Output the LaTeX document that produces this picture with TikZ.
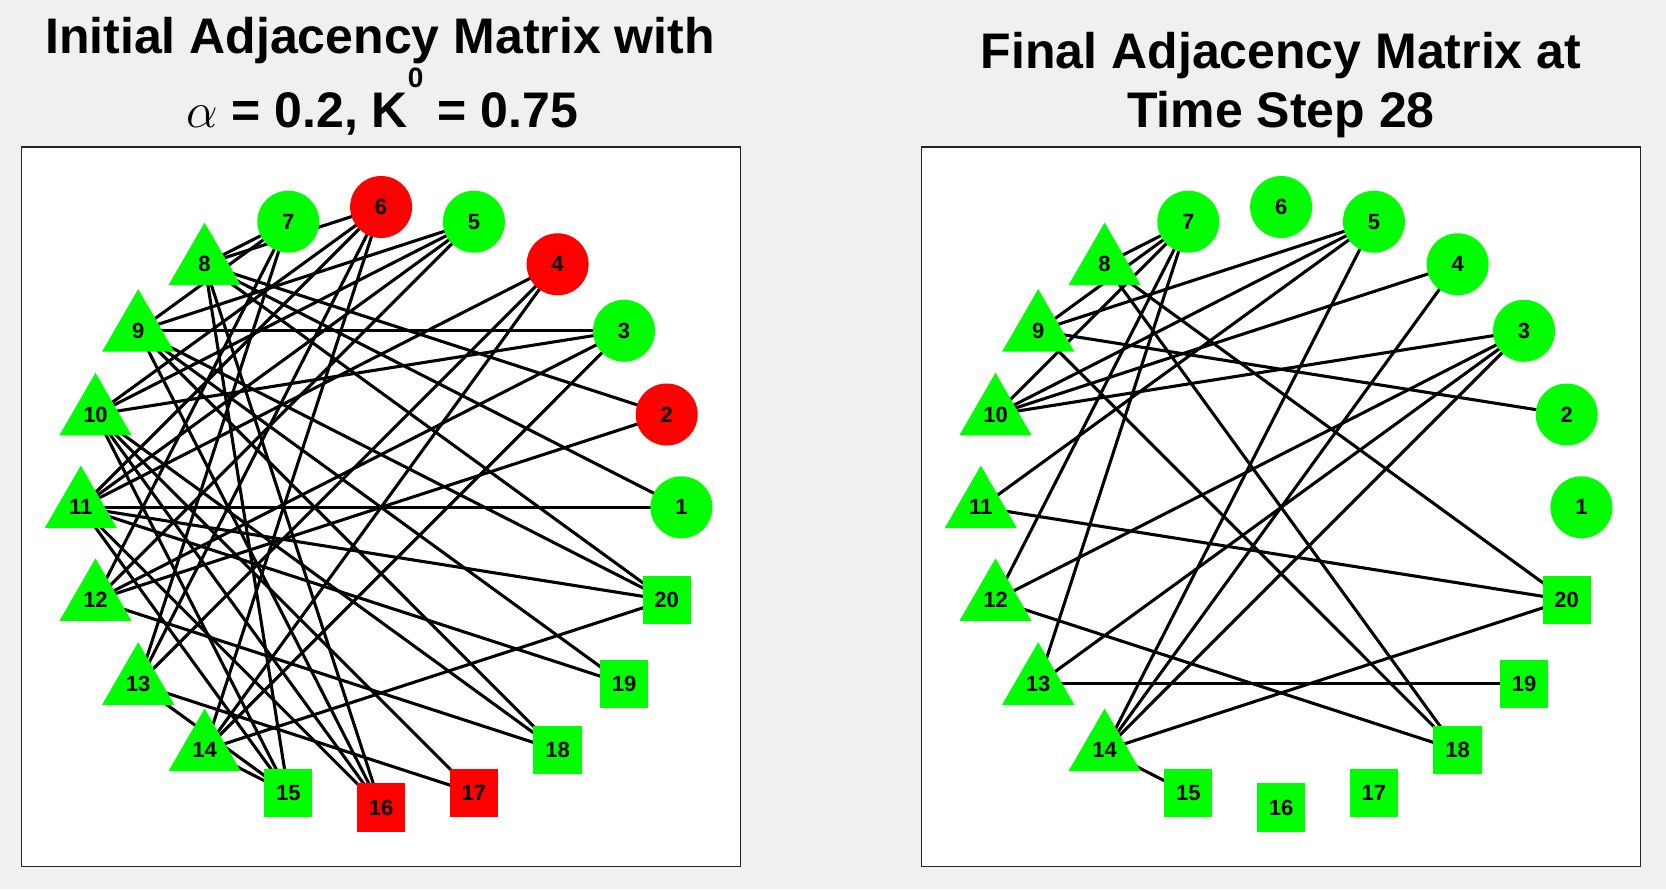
\RequirePackage{fix-cm}
\documentclass[tikz,border=0pt]{standalone}
\usepackage{fontspec}
\setmainfont{Liberation Sans}
\usetikzlibrary{shapes.geometric}
\pgfdeclarelayer{panel}
\pgfdeclarelayer{edges}
\pgfsetlayers{panel,edges,main}
\definecolor{figbg}{RGB}{240,240,240}
\definecolor{ngreen}{RGB}{0,255,0}
\definecolor{nred}{RGB}{255,0,0}
\definecolor{axbox}{RGB}{38,38,38}
\tikzset{
  lbl/.style={font=\bfseries\fontsize{16.5}{16.5}\selectfont, inner sep=0pt, text=black},
  circ/.style={lbl, circle, minimum size=46.5pt},
  sq/.style={lbl, rectangle, minimum size=36.2pt},
  tri/.style={lbl, regular polygon, regular polygon sides=3, minimum size=62.6pt},
  gn/.style={fill=ngreen},
  rd/.style={fill=nred},
  edge/.style={draw=black, line width=2.3pt},
  panelbox/.style={draw=axbox, fill=white, line width=0.8pt},
  ttl/.style={font=\bfseries\fontsize{37.5}{37.5}\selectfont, anchor=base, inner sep=0pt},
}
\begin{document}
\begin{tikzpicture}[x=0.75pt,y=-0.75pt]
\useasboundingbox (0,0) rectangle (1666,889);
\begin{pgfonlayer}{panel}
\fill[figbg] (0,0) rectangle (1666,889);
\draw[panelbox] (21.4,147) rectangle (740.8,866.4);
\draw[panelbox] (921.4,147) rectangle (1640.8,866.4);
\end{pgfonlayer}

% titles
\node[ttl] (tl1) at (380,53) {Initial Adjacency Matrix with};
\node[ttl] (tl2) at (382,127.5) {$\alpha$ = 0.2, K\raisebox{30pt}{\fontsize{21}{21}\selectfont 0} = 0.75};
\node[ttl] (tr1) at (1281,68) {Final Adjacency Matrix at};
\node[ttl] (tr2) at (1281,127.5) {Time Step 28};

% left nodes
\node[circ,gn] (L1) at (681.4,507.3) {1};
\node[circ,rd] (L2) at (666.7,414.5) {2};
\node[circ,gn] (L3) at (624.0,330.8) {3};
\node[circ,rd] (L4) at (557.6,264.3) {4};
\node[circ,gn] (L5) at (473.9,221.7) {5};
\node[circ,rd] (L6) at (381.1,207.0) {6};
\node[circ,gn] (L7) at (288.3,221.7) {7};
\node[tri,gn] (L8) at (204.6,264.3) {8};
\node[tri,gn] (L9) at (138.2,330.8) {9};
\node[tri,gn] (L10) at (95.5,414.5) {10};
\node[tri,gn] (L11) at (80.8,507.3) {11};
\node[tri,gn] (L12) at (95.5,600.1) {12};
\node[tri,gn] (L13) at (138.2,683.9) {13};
\node[tri,gn] (L14) at (204.6,750.3) {14};
\node[sq,gn] (L15) at (288.3,792.9) {15};
\node[sq,rd] (L16) at (381.1,807.6) {16};
\node[sq,rd] (L17) at (473.9,792.9) {17};
\node[sq,gn] (L18) at (557.6,750.3) {18};
\node[sq,gn] (L19) at (624.0,683.9) {19};
\node[sq,gn] (L20) at (666.7,600.1) {20};

% right nodes
\node[circ,gn] (R1) at (1581.4,507.3) {1};
\node[circ,gn] (R2) at (1566.7,414.5) {2};
\node[circ,gn] (R3) at (1524.0,330.8) {3};
\node[circ,gn] (R4) at (1457.6,264.3) {4};
\node[circ,gn] (R5) at (1373.9,221.7) {5};
\node[circ,gn] (R6) at (1281.1,207.0) {6};
\node[circ,gn] (R7) at (1188.3,221.7) {7};
\node[tri,gn] (R8) at (1104.6,264.3) {8};
\node[tri,gn] (R9) at (1038.2,330.8) {9};
\node[tri,gn] (R10) at (995.5,414.5) {10};
\node[tri,gn] (R11) at (980.8,507.3) {11};
\node[tri,gn] (R12) at (995.5,600.1) {12};
\node[tri,gn] (R13) at (1038.2,683.9) {13};
\node[tri,gn] (R14) at (1104.6,750.3) {14};
\node[sq,gn] (R15) at (1188.3,792.9) {15};
\node[sq,gn] (R16) at (1281.1,807.6) {16};
\node[sq,gn] (R17) at (1373.9,792.9) {17};
\node[sq,gn] (R18) at (1457.6,750.3) {18};
\node[sq,gn] (R19) at (1524.0,683.9) {19};
\node[sq,gn] (R20) at (1566.7,600.1) {20};

\begin{pgfonlayer}{edges}
\foreach \a/\b in {1/8,1/11,2/8,2/12,3/9,3/10,3/12,3/14,4/11,4/13,4/14,
  5/9,5/10,5/11,5/12,6/8,6/10,6/11,6/13,6/14,7/8,7/9,7/12,7/13,
  8/20,8/16,8/15,9/20,9/19,9/18,9/16,10/15,10/16,10/17,10/18,
  11/20,11/19,11/16,11/15,12/18,13/17,13/15,14/20,14/15}
  \draw[edge] (L\a.center) -- (L\b.center);
\foreach \a/\b in {7/8,7/9,7/10,7/12,7/13,8/18,8/20,9/5,9/2,9/18,10/5,10/4,10/3,
  11/5,11/20,12/3,12/18,13/3,13/19,14/5,14/4,14/3,14/20,14/15}
  \draw[edge] (R\a.center) -- (R\b.center);
\end{pgfonlayer}
\end{tikzpicture}
\end{document}
